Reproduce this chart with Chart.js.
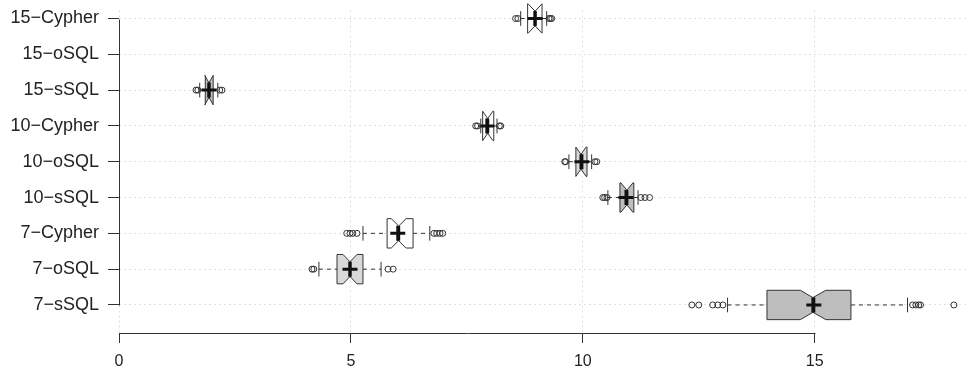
<!DOCTYPE html>
<html>
<head>
<meta charset="utf-8">
<title>Query times</title>
<script src="https://cdn.jsdelivr.net/npm/chart.js@4.4.1/dist/chart.umd.min.js"></script>
<style>
  html, body { margin: 0; padding: 0; background: #fff; }
</style>
</head>
<body>
<canvas id="boxChart" width="976" height="373"></canvas>
<script>
// categories, top to bottom
const categories = ["15-Cypher", "15-oSQL", "15-sSQL", "10-Cypher", "10-oSQL", "10-sSQL", "7-Cypher", "7-oSQL", "7-sSQL"];

// box statistics (null = no box)
const whiskerLow  = [8.66, null, 1.74, 7.80, 9.70, 10.54, 5.26, 4.31, 13.12];
const q1          = [8.81, null, 1.86, 7.84, 9.85, 10.80, 5.78, 4.70, 13.97];
const median      = [8.97, null, 1.94, 7.95, 9.96, 10.95, 6.03, 4.98, 14.96];
const q3          = [9.12, null, 2.03, 8.08, 10.09, 11.10, 6.34, 5.26, 15.78];
const whiskerHigh = [9.22, null, 2.13, 8.15, 10.19, 11.19, 6.70, 5.65, 17.00];
const means       = [8.97, null, 1.94, 7.93, 9.98, 10.93, 6.01, 4.98, 14.98];
const notchLow    = [8.82, null, 1.85, 7.84, 9.85, 10.82, 5.87, 4.83, 14.69];
const notchHigh   = [9.12, null, 2.03, 8.06, 10.07, 11.08, 6.19, 5.13, 15.24];

const outliers = [
  [8.55, 8.60, 9.27, 9.30, 9.33],
  [],
  [1.66, 1.70, 2.17, 2.22],
  [7.69, 7.73, 8.20, 8.23],
  [9.61, 9.63, 10.26, 10.30],
  [10.43, 10.47, 10.52, 11.25, 11.34, 11.44],
  [4.91, 4.98, 5.04, 5.13, 6.79, 6.85, 6.92, 6.98],
  [4.16, 4.20, 5.80, 5.91],
  [12.35, 12.50, 12.80, 12.91, 13.02, 17.11, 17.18, 17.24, 17.28, 18.00]
];

const xTicks = [0, 5, 10, 15];

// fill per query type
const fillByType = { Cypher: "#ffffff", oSQL: "#d9d9d9", sSQL: "#bebebe" };

const FONT_FAMILY = "'Liberation Sans', Arial, sans-serif";

const outlierPoints = [];
outliers.forEach((list, i) => list.forEach(v => outlierPoints.push({ x: v, y: i })));
const meanPoints = [];
means.forEach((m, i) => { if (m !== null) meanPoints.push({ x: m, y: i }); });

// ---------- notched boxes + whiskers ----------
const boxPlugin = {
  id: "notchedBoxes",
  beforeDatasetsDraw(chart) {
    const ctx = chart.ctx;
    const xs = chart.scales.x;
    const ys = chart.scales.y;

    categories.forEach((cat, i) => {
      if (q1[i] === null) return;
      const yc = ys.getPixelForValue(i);
      const wid = Math.abs(ys.getPixelForValue(i + 0.41) - yc);
      const X = v => xs.getPixelForValue(v);
      const type = cat.split("-")[1];

      ctx.save();
      ctx.strokeStyle = "#333";
      ctx.lineWidth = 1;

      // whiskers (dashed)
      ctx.setLineDash([4, 4]);
      ctx.beginPath();
      ctx.moveTo(X(whiskerLow[i]), yc);
      ctx.lineTo(X(q1[i]), yc);
      ctx.moveTo(X(q3[i]), yc);
      ctx.lineTo(X(whiskerHigh[i]), yc);
      ctx.stroke();

      // staples
      ctx.setLineDash([]);
      ctx.beginPath();
      ctx.moveTo(X(whiskerLow[i]), yc - wid / 2);
      ctx.lineTo(X(whiskerLow[i]), yc + wid / 2);
      ctx.moveTo(X(whiskerHigh[i]), yc - wid / 2);
      ctx.lineTo(X(whiskerHigh[i]), yc + wid / 2);
      ctx.stroke();

      // notched box
      ctx.beginPath();
      ctx.moveTo(X(q1[i]), yc - wid);
      ctx.lineTo(X(notchLow[i]), yc - wid);
      ctx.lineTo(X(median[i]), yc - wid / 2);
      ctx.lineTo(X(notchHigh[i]), yc - wid);
      ctx.lineTo(X(q3[i]), yc - wid);
      ctx.lineTo(X(q3[i]), yc + wid);
      ctx.lineTo(X(notchHigh[i]), yc + wid);
      ctx.lineTo(X(median[i]), yc + wid / 2);
      ctx.lineTo(X(notchLow[i]), yc + wid);
      ctx.lineTo(X(q1[i]), yc + wid);
      ctx.closePath();
      ctx.fillStyle = fillByType[type];
      ctx.fill();
      ctx.stroke();

      // median
      ctx.lineWidth = 3;
      ctx.strokeStyle = "#111";
      ctx.beginPath();
      ctx.moveTo(X(median[i]), yc - wid / 2);
      ctx.lineTo(X(median[i]), yc + wid / 2);
      ctx.stroke();
      ctx.restore();
    });
  },
  afterDraw(chart) {
    // R style axis lines: only between first and last tick
    const ctx = chart.ctx;
    const xs = chart.scales.x;
    const ys = chart.scales.y;
    const area = chart.chartArea;
    ctx.save();
    ctx.strokeStyle = "#333";
    ctx.lineWidth = 1;
    ctx.beginPath();
    const by = Math.round(area.bottom) + 0.5;
    ctx.moveTo(Math.round(xs.getPixelForValue(xTicks[0])) + 0.5, by);
    ctx.lineTo(Math.round(xs.getPixelForValue(xTicks[xTicks.length - 1])) + 0.5, by);
    const lx = Math.round(area.left) + 0.5;
    ctx.moveTo(lx, Math.round(ys.getPixelForValue(0)) + 0.5);
    ctx.lineTo(lx, Math.round(ys.getPixelForValue(categories.length - 1)) + 0.5);
    ctx.stroke();
    ctx.restore();
  }
};

const ctx = document.getElementById("boxChart").getContext("2d");

new Chart(ctx, {
  type: "scatter",
  data: {
    datasets: [
      {
        label: "Outliers",
        data: outlierPoints,
        pointStyle: "circle",
        pointRadius: 3,
        pointBorderWidth: 1,
        borderColor: "#333",
        backgroundColor: "rgba(255,255,255,0)"
      },
      {
        label: "Mean",
        data: meanPoints,
        pointStyle: "cross",
        pointRadius: 7.5,
        pointBorderWidth: 3,
        borderColor: "#111",
        backgroundColor: "#111"
      }
    ]
  },
  options: {
    responsive: false,
    animation: false,
    layout: { padding: { top: 0, right: 8, bottom: 0, left: 0 } },
    plugins: {
      legend: { display: false },
      tooltip: { enabled: false }
    },
    scales: {
      x: {
        type: "linear",
        min: 0,
        max: 18.25,
        afterBuildTicks: s => { s.ticks = xTicks.map(v => ({ value: v })); },
        afterFit: s => { s.height = 40; s.paddingLeft = 0; s.paddingRight = 0; },
        grid: { color: "#e0e0e0", tickColor: "#333", tickLength: 10, lineWidth: 1 },
        border: { display: false, dash: [2, 3] },
        ticks: { color: "#222", font: { family: FONT_FAMILY, size: 16 }, padding: 9, maxRotation: 0 }
      },
      y: {
        type: "linear",
        reverse: true,
        min: -0.2235,
        max: 8.783,
        afterBuildTicks: s => { s.ticks = categories.map((c, i) => ({ value: i })); },
        afterFit: s => { s.width = 119; s.paddingTop = 0; s.paddingBottom = 0; },
        grid: { color: "#e0e0e0", tickColor: "#333", tickLength: 11, lineWidth: 1 },
        border: { display: false, dash: [2, 3] },
        ticks: {
          color: "#222",
          font: { family: FONT_FAMILY, size: 18 },
          padding: 9,
          autoSkip: false,
          callback: v => categories[v].replace("-", "\u2212")
        }
      }
    }
  },
  plugins: [boxPlugin]
});
</script>
</body>
</html>
